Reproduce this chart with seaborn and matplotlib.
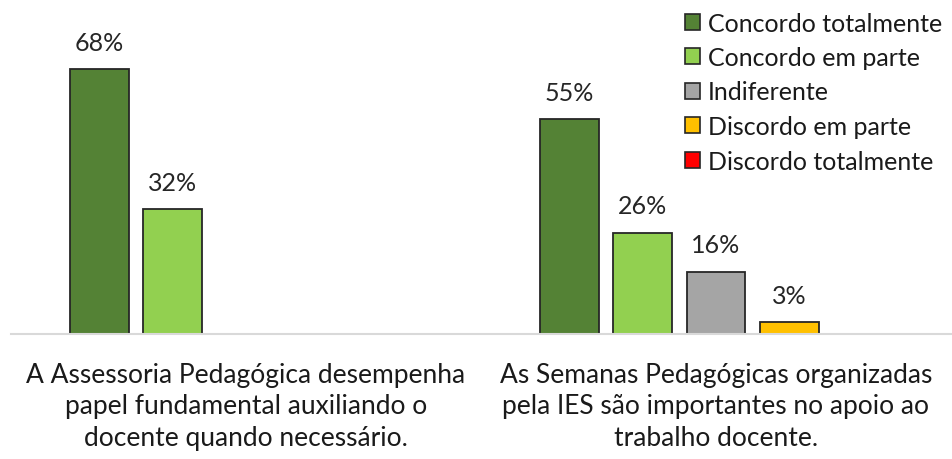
import matplotlib
matplotlib.use("Agg")
import matplotlib.pyplot as plt
import seaborn as sns
import pandas as pd
from matplotlib.patches import Patch

statements = [
    "A Assessoria Pedagógica desempenha\npapel fundamental auxiliando o\ndocente quando necessário.",
    "As Semanas Pedagógicas organizadas\npela IES são importantes no apoio ao\ntrabalho docente.",
]
responses = [
    "Concordo totalmente",
    "Concordo em parte",
    "Indiferente",
    "Discordo em parte",
    "Discordo totalmente",
]
assessoria = [68, 32, 0, 0, 0]
semanas = [55, 26, 16, 3, 0]
colors = ["#548235", "#92D050", "#A5A5A5", "#FFC000", "#FF0000"]

rows = []
for stmt, vals in zip(statements, [assessoria, semanas]):
    for resp, v in zip(responses, vals):
        rows.append({"Afirmação": stmt, "Resposta": resp, "Percentual": v})
df = pd.DataFrame(rows)

sns.set_theme(style="white")
plt.rcParams["font.family"] = ["Lato", "DejaVu Sans"]

fig = plt.figure(figsize=(9.53, 4.60), dpi=100)
ax = fig.add_axes([11 / 953, 125 / 460, 940 / 953, 312 / 460])

sns.barplot(
    data=df, x="Afirmação", y="Percentual", hue="Resposta",
    hue_order=responses, palette=colors, order=statements,
    width=0.78, gap=0.2, saturation=1, edgecolor="#262626", linewidth=1.3,
    legend=False, ax=ax,
)

# Hide empty bars and label the rest with their percentage
for patch in ax.patches:
    h = patch.get_height()
    if h <= 0:
        patch.set_visible(False)
        continue
    ax.annotate(
        f"{h:.0f}%",
        (patch.get_x() + patch.get_width() / 2, h),
        xytext=(0, 11), textcoords="offset points",
        ha="center", va="bottom", fontsize=18, color="#262626",
    )

ax.set_xlim(-0.5, 1.5)
ax.set_ylim(0, 80)
ax.set_xlabel("")
ax.set_ylabel("")
ax.set_yticks([])
for side in ["left", "right", "top"]:
    ax.spines[side].set_visible(False)
ax.spines["bottom"].set_color("#d9d9d9")
ax.spines["bottom"].set_linewidth(1.5)
ax.tick_params(axis="x", length=0, pad=20, labelsize=19, labelcolor="#1a1a1a")
for lbl in ax.get_xticklabels():
    lbl.set_linespacing(1.32)

handles = [Patch(facecolor=c, edgecolor="#262626", linewidth=1.2) for c in colors]
fig.legend(
    handles, responses, loc="upper left", bbox_to_anchor=(672 / 953, 1.0),
    frameon=False, fontsize=18, handlelength=0.6, handleheight=0.6,
    handletextpad=0.35, labelspacing=0.46, borderaxespad=0.1,
    labelcolor="#1a1a1a",
)

fig.savefig("out.png", dpi=100)
